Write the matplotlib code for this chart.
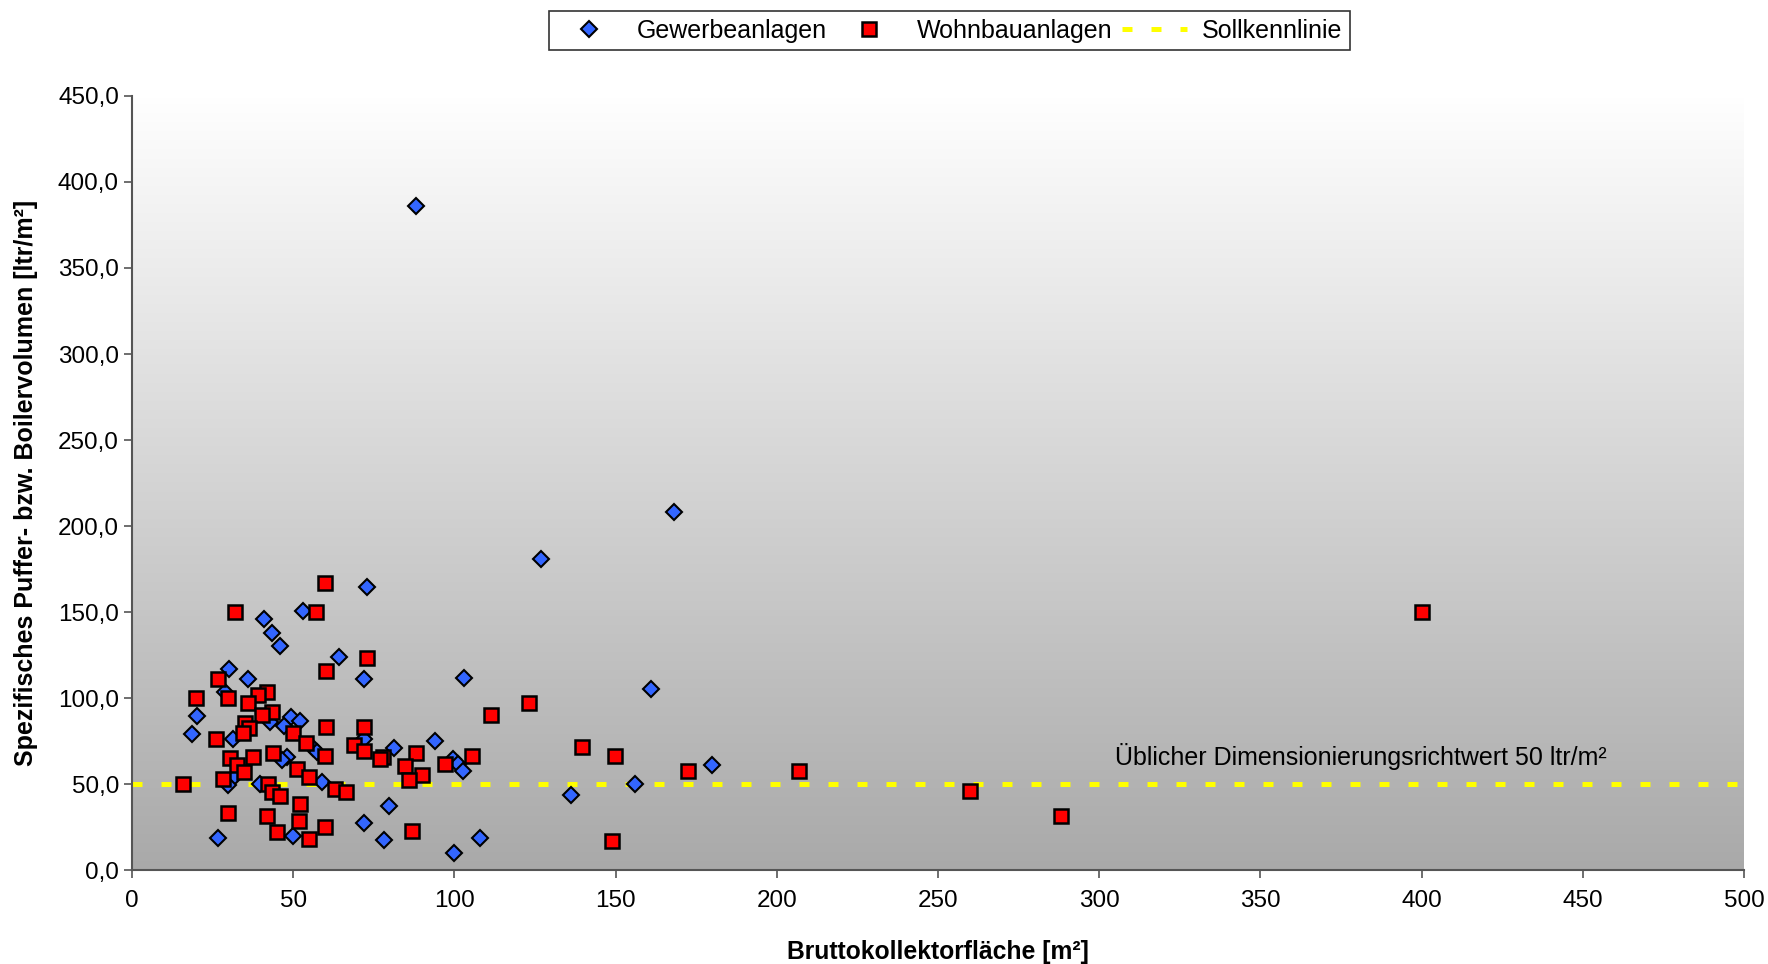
import numpy as np
import matplotlib
matplotlib.use('Agg')
import matplotlib.pyplot as plt
from matplotlib.colors import LinearSegmentedColormap
from matplotlib.ticker import FuncFormatter, MultipleLocator

plt.rcParams['font.family'] = ['Liberation Sans', 'DejaVu Sans']

# Gewerbeanlagen: Kollektorfläche [m²], spez. Volumen [ltr/m²]
gew_x = [88, 168, 127, 73, 53, 41, 43.5, 46, 64.3, 30, 36, 71.8, 103, 28.7, 161,
         20, 49.4, 52, 47.2, 42.8, 18.7, 31.3, 71.8, 94, 56, 57.3, 81.4, 48, 46.4,
         99.6, 101.2, 102.5, 180, 31.6, 29.9, 39.7, 58.8, 156, 136.2, 79.8, 71.8,
         26.8, 49.8, 78.1, 107.9, 99.9]
gew_y = [386, 208, 181, 164.5, 150.7, 146, 137.8, 130.4, 124.2, 117, 111.2, 111.2,
         111.8, 103.7, 105.4, 90, 89, 86.8, 84.1, 86.5, 79.3, 76.2, 76.4, 75.2, 71,
         69, 71, 66.1, 64.2, 64.8, 62, 58, 61, 54.5, 49.7, 50, 51.2, 50, 44, 37.5,
         27.8, 18.7, 20, 17.7, 18.7, 10]

# Wohnbauanlagen
wohn_x = [60, 32, 57, 400, 72.8, 60.3, 26.8, 111.2, 123, 19.8, 29.9, 41.8, 39, 35.9,
          43.4, 40.3, 34.9, 36.3, 34.5, 60.2, 71.8, 49.8, 26, 53.9, 68.8, 71.8, 139.6,
          37.6, 43.8, 30.4, 59.8, 77.7, 76.9, 88, 105.3, 149.9, 32.7, 84.7, 97.1, 51.1,
          34.8, 54.9, 89.9, 85.8, 28.3, 15.9, 42.3, 172.3, 206.9, 62.8, 66.4, 43.5,
          45.9, 260, 52.1, 29.9, 41.8, 288, 51.9, 59.8, 86.8, 44.9, 54.9, 148.9]
wohn_y = [166.8, 150, 150.3, 150, 123.3, 116, 111.2, 90.1, 97.5, 100, 100, 103.7, 102,
          97.5, 92, 90.3, 85.5, 82.6, 79.7, 83.5, 83.4, 80, 76.2, 74.2, 72.7, 69.4,
          71.6, 66.1, 68.4, 65.5, 66.5, 66.1, 64.8, 68, 66.5, 66.7, 61.3, 60.9, 61.9,
          59, 57, 54.5, 55.5, 52.6, 53, 50, 50, 58, 58, 47.3, 45.8, 45.6, 43.5, 46,
          38.4, 33.2, 31.7, 31.4, 28.9, 25.1, 23.1, 22.2, 18.1, 17]

soll_wert = 50
x_max, y_max = 500, 450

fig = plt.figure(figsize=(17.68, 9.64), dpi=100)
ax = fig.add_axes([0.0747, 0.097, 0.9117, 0.8036])

# Hintergrund mit Verlauf weiß -> grau
cmap = LinearSegmentedColormap.from_list('bg', ['#ffffff', '#a9a9a9'])
grad = np.linspace(0, 1, 256)[:, None]
ax.imshow(grad, extent=[0, x_max, 0, y_max], aspect='auto', cmap=cmap,
          origin='upper', zorder=0)

ax.plot([0, x_max], [soll_wert, soll_wert], color='#ffff00', lw=3.6,
        dashes=(2, 3.8), label='Sollkennlinie', zorder=1)
ax.plot(gew_x, gew_y, ls='none', marker='D', ms=8, mfc='#3366ff', mec='black',
        mew=1.5, label='Gewerbeanlagen', zorder=2)
ax.plot(wohn_x, wohn_y, ls='none', marker='s', ms=10.5, mfc='#ff0000', mec='black',
        mew=1.8, label='Wohnbauanlagen', zorder=3)

ax.text(305, 66.5, 'Üblicher Dimensionierungsrichtwert 50 ltr/m²', fontsize=18,
        va='center', ha='left')

ax.set_xlim(0, x_max)
ax.set_ylim(0, y_max)
ax.xaxis.set_major_locator(MultipleLocator(50))
ax.yaxis.set_major_locator(MultipleLocator(50))
ax.yaxis.set_major_formatter(FuncFormatter(lambda v, p: f'{v:.1f}'.replace('.', ',')))
ax.tick_params(labelsize=17.5, length=6, width=1.2, color='#555555')
ax.tick_params(axis='x', pad=8)

for s in ['top', 'right']:
    ax.spines[s].set_visible(False)
for s in ['left', 'bottom']:
    ax.spines[s].set_color('#555555')
    ax.spines[s].set_linewidth(1.5)

ax.set_xlabel('Bruttokollektorfläche [m²]', fontsize=17.8, fontweight='bold',
              labelpad=20)
ax.set_ylabel('Spezifisches Puffer- bzw. Boilervolumen [ltr/m²]', fontsize=18,
              fontweight='bold', labelpad=14)

handles, labels = ax.get_legend_handles_labels()
order = [1, 2, 0]
leg = fig.legend([handles[i] for i in order], [labels[i] for i in order],
                 loc='center', bbox_to_anchor=(0.537, 0.968), ncol=3, fontsize=18,
                 frameon=True, fancybox=False, edgecolor='black', handlelength=2.6,
                 handletextpad=0.6, columnspacing=0.4, borderpad=0.3)
leg.get_frame().set_linewidth(1.2)

fig.savefig('out.png', dpi=100)
